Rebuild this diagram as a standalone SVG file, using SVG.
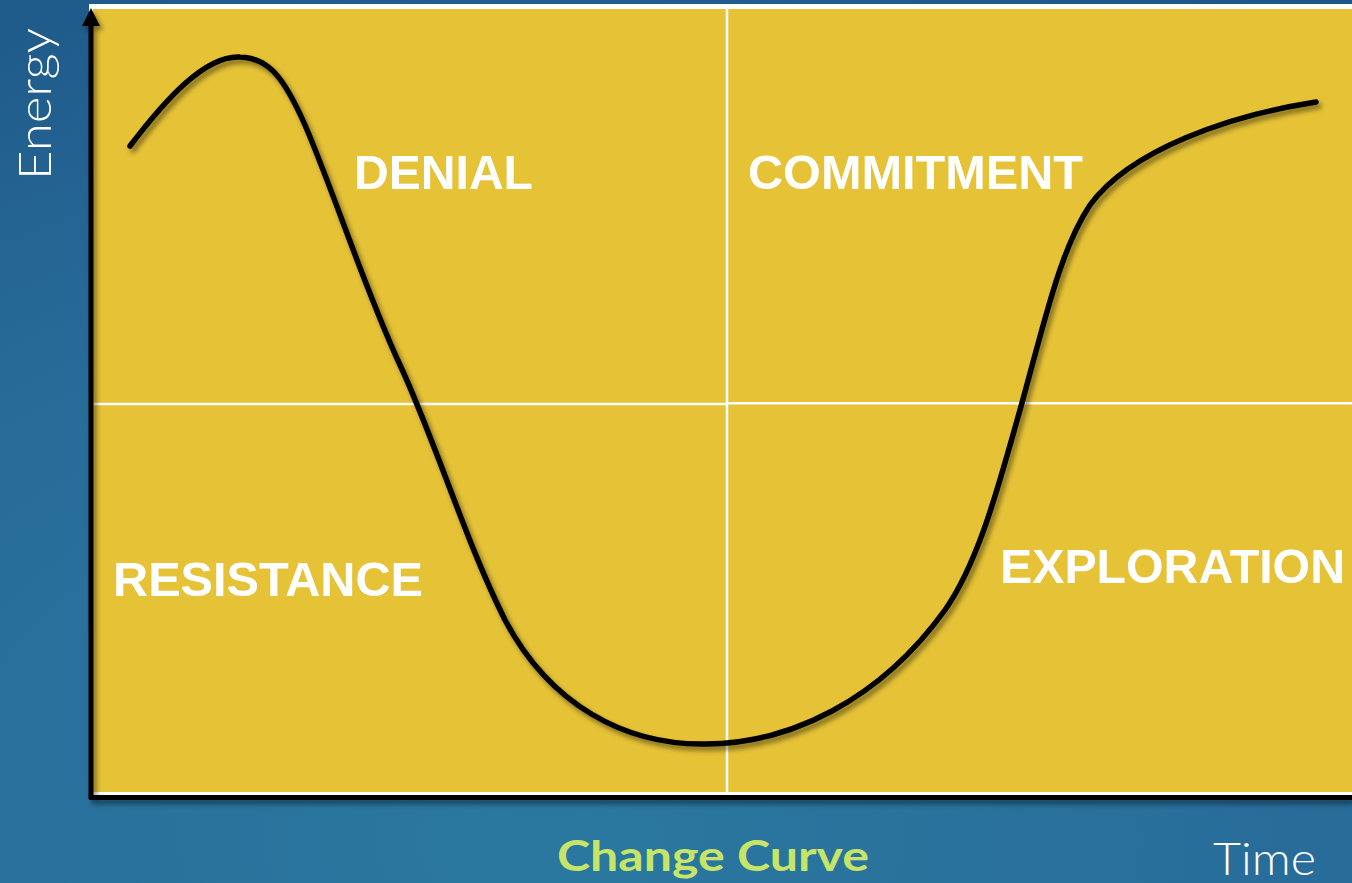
<svg xmlns="http://www.w3.org/2000/svg" width="1352" height="883" viewBox="0 0 1352 883">
  <defs>
    <radialGradient id="bg" cx="0.4" cy="0.95" r="1.1">
      <stop offset="0" stop-color="#2a78a0"/>
      <stop offset="0.55" stop-color="#286c99"/>
      <stop offset="1" stop-color="#1d5787"/>
    </radialGradient>
    <filter id="shadow" x="-5%" y="-5%" width="110%" height="115%">
      <feDropShadow dx="3" dy="4" stdDeviation="2.5" flood-color="#000" flood-opacity="0.45"/>
    </filter>
  </defs>
  <style>
    .quad { fill: #e5c236; }
    .divider { stroke: #ffffff; stroke-width: 2.5; fill: none; }
    .axis { stroke: #000; stroke-width: 5; fill: none; }
    .stage { font-family: "Liberation Sans", Arial, sans-serif; font-weight: bold; font-size: 48px; fill: #ffffff; }
    .axis-label { font-family: "Lato", "Open Sans", sans-serif; font-weight: 300; font-size: 46px; fill: #ffffff; }
    .title { font-family: "Lato", "Noto Sans", sans-serif; font-weight: bold; font-size: 42px; fill: #c6e468; }
    .curve { stroke: #000; stroke-width: 5.5; fill: none; stroke-linecap: round; }
  </style>

  <!-- background -->
  <rect x="0" y="0" width="1352" height="883" fill="url(#bg)"/>

  <!-- plot area -->
  <g id="plot-area">
    <rect x="89" y="4" width="1263" height="792" fill="#ffffff"/>
    <rect class="quad" x="93" y="9" width="1259" height="783"/>
  </g>

  <!-- quadrant dividers -->
  <g id="dividers">
    <line class="divider" x1="727" y1="9" x2="727" y2="792"/>
    <line class="divider" x1="93" y1="404" x2="727" y2="404"/>
    <line class="divider" x1="727" y1="403.3" x2="1352" y2="403.3"/>
  </g>

  <!-- axes -->
  <g id="axes" filter="url(#shadow)">
    <line class="axis" x1="91" y1="799" x2="91" y2="22"/>
    <polygon points="91,8 100,26 82,26" fill="#000"/>
    <line class="axis" x1="89" y1="797.5" x2="1352" y2="797.5"/>
  </g>

  <!-- stage labels -->
  <g id="denial"><text class="stage" x="354" y="189" textLength="179" lengthAdjust="spacingAndGlyphs">DENIAL</text></g>
  <g id="commitment"><text class="stage" x="748" y="189" textLength="335" lengthAdjust="spacingAndGlyphs">COMMITMENT</text></g>
  <g id="resistance"><text class="stage" x="113" y="596" textLength="310" lengthAdjust="spacingAndGlyphs">RESISTANCE</text></g>
  <g id="exploration"><text class="stage" x="1000" y="583" textLength="345" lengthAdjust="spacingAndGlyphs">EXPLORATION</text></g>

  <!-- change curve -->
  <g id="connectors" filter="url(#shadow)">
    <path class="curve" d="M130,146 C165,100 205,55 240,57 C270,58 285,80 305,125 C335,195 365,290 400,365 C435,440 465,540 505,620 C550,705 625,745 705,744 C790,744 880,700 945,610 C980,560 1000,480 1020,410 C1045,320 1060,250 1090,205 C1130,150 1230,115 1316,102"/>
  </g>

  <!-- axis labels and title -->
  <g id="labels">
    <text class="axis-label" transform="translate(51,180) rotate(-90)" textLength="152" lengthAdjust="spacingAndGlyphs">Energy</text>
    <text class="axis-label" x="1213" y="875" textLength="103" lengthAdjust="spacingAndGlyphs">Time</text>
    <text class="title" x="557" y="871" textLength="312" lengthAdjust="spacingAndGlyphs">Change Curve</text>
  </g>
</svg>
